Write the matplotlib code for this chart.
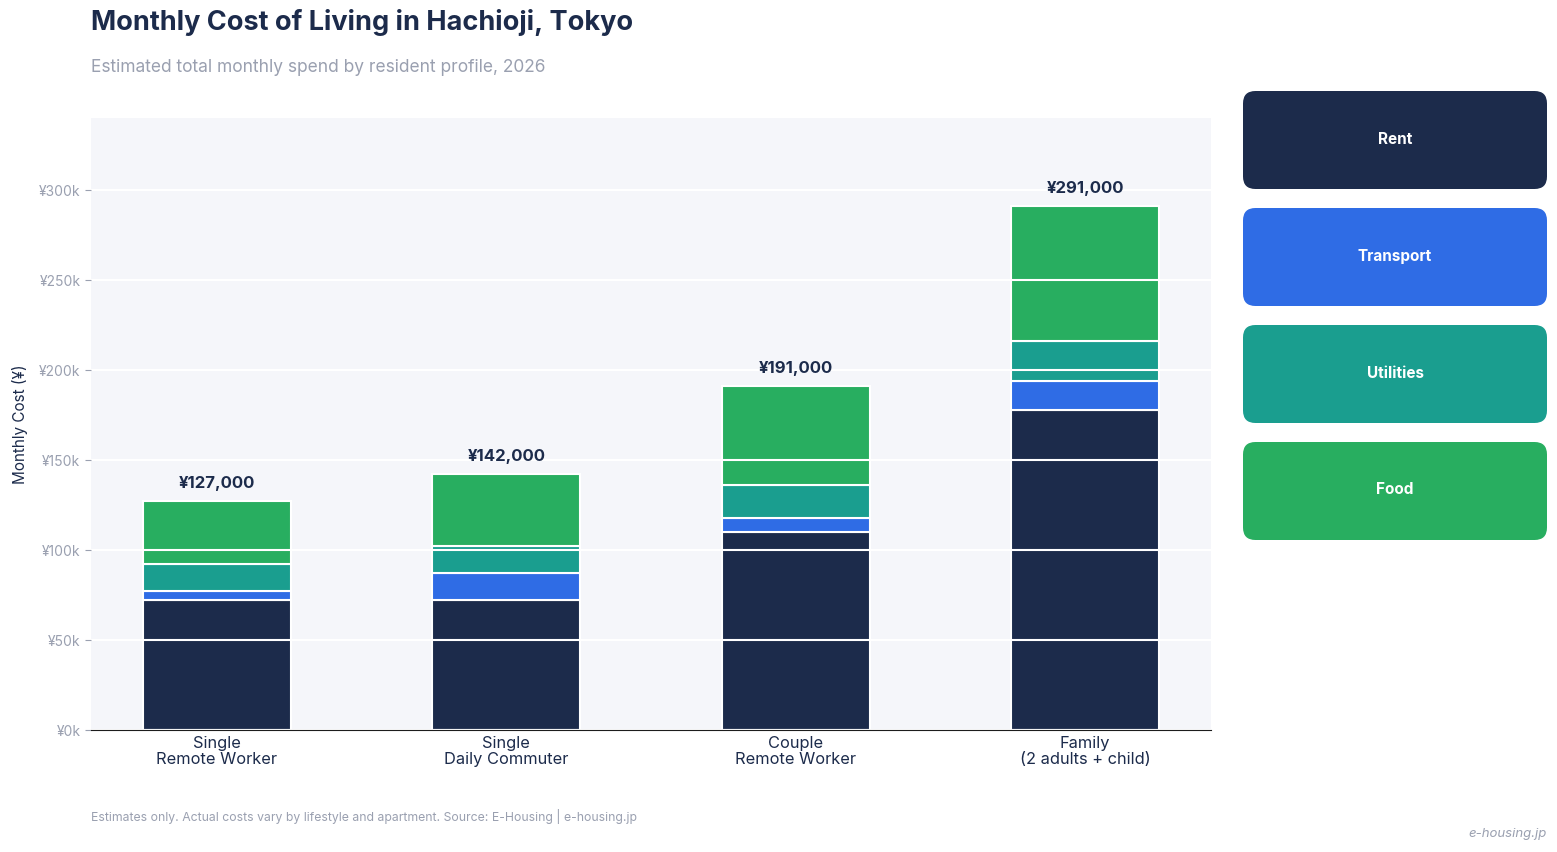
import matplotlib
matplotlib.use('Agg')
import matplotlib.pyplot as plt
from matplotlib.patches import FancyBboxPatch
import numpy as np

# Data
profiles = ['Single\nRemote Worker', 'Single\nDaily Commuter', 'Couple\nRemote Worker', 'Family\n(2 adults + child)']
categories = ['Rent', 'Transport', 'Utilities', 'Food']
rent = [72000, 72000, 110000, 178000]
transport = [5000, 15000, 8000, 16000]
utilities = [15000, 15000, 18000, 22000]
food = [35000, 40000, 55000, 75000]
colors = ['#1c2b4b', '#2f6ce5', '#1a9e8f', '#28ae60']

plt.rcParams['font.family'] = ['Inter', 'DejaVu Sans']

fig = plt.figure(figsize=(15.57, 8.52), dpi=100)
ax = fig.add_axes([91/1557, 1-730/852, 1120/1557, 612/852])
ax.set_facecolor('#f5f6fa')

x = np.arange(len(profiles))
series = [rent, transport, utilities, food]
bottom = np.zeros(len(profiles))
for vals, name, c in zip(series, categories, colors):
    ax.bar(x, vals, 0.51, bottom=bottom, color=c, edgecolor='white', linewidth=1.5, zorder=2, label=name)
    bottom += np.array(vals)

totals = bottom
for xi, t in zip(x, totals):
    ax.annotate('¥{:,}'.format(int(t)), (xi, t), xytext=(0, 13), textcoords='offset points',
                ha='center', va='center', fontsize=12, fontweight='bold', color='#1c2b4b', zorder=4)

ax.set_xlim(-0.435, 3.435)
ax.set_ylim(0, 340000)
yt = np.arange(0, 300001, 50000)
ax.set_yticks(yt)
ax.set_yticklabels(['¥{}k'.format(int(v/1000)) for v in yt], color='#9aa0b0', fontsize=10)
ax.grid(axis='y', color='white', linewidth=1.5, zorder=3)
ax.set_axisbelow(False)
ax.set_xticks(x)
ax.set_xticklabels(profiles, fontsize=11.8, color='#1c2b4b', linespacing=1.15)
ax.tick_params(axis='x', length=0, pad=4)
ax.tick_params(axis='y', length=4, color='#9aa0b0')
for s in ['top', 'right', 'left']:
    ax.spines[s].set_visible(False)
ax.spines['bottom'].set_color('#1c1c1c')
ax.spines['bottom'].set_zorder(5)
ax.set_ylabel('Monthly Cost (¥)', fontsize=11, color='#1c2b4b', labelpad=8)

# Title etc
fig.text(91/1557, 1-22/852, 'Monthly Cost of Living in Hachioji, Tokyo', fontsize=19.5, fontweight='bold',
         color='#1c2b4b', va='center', ha='left')
fig.text(91/1557, 1-67/852, 'Estimated total monthly spend by resident profile, 2026', fontsize=12.5,
         color='#9aa0b0', va='center', ha='left')
fig.text(91/1557, 1-816/852, 'Estimates only. Actual costs vary by lifestyle and apartment. Source: E-Housing | e-housing.jp',
         fontsize=8.8, color='#9aa0b0', va='center', ha='left')
fig.text(1547/1557, 1-834/852, 'e-housing.jp', fontsize=9.5, style='italic', color='#9aa0b0', va='center', ha='right')

# Legend cards
W, H = 1557, 852
for i, (name, c) in enumerate(zip(categories, colors)):
    top = 91 + i * 117
    x0, y0 = 1243 / W, 1 - (top + 98) / H
    box = FancyBboxPatch((x0, y0), 304 / W, 98 / H, boxstyle='round,pad=0,rounding_size=0.008',
                         transform=fig.transFigure, facecolor=c, edgecolor='none',
                         mutation_aspect=W / H)
    fig.patches.append(box)
    fig.text(x0 + 152 / W, 1 - (top + 48) / H, name, fontsize=11, fontweight='bold', color='white',
             ha='center', va='center')

fig.savefig('out.png', dpi=100, facecolor='white')
